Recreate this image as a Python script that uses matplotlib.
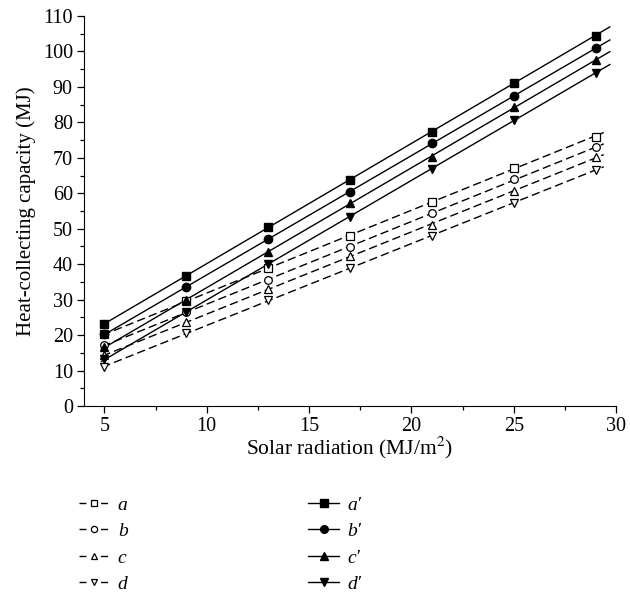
import numpy as np
import matplotlib
matplotlib.use("Agg")
import matplotlib.pyplot as plt
from matplotlib.lines import Line2D

plt.rcParams['font.family'] = ['Liberation Serif', 'DejaVu Serif']
plt.rcParams['mathtext.fontset'] = 'stix'

# Data
solar = [5, 9, 13, 17, 21, 25, 29]
a_open = [20.2, 29.6, 38.8, 48.0, 57.6, 67.2, 76.0]
b_open = [17.2, 26.5, 35.5, 44.9, 54.3, 63.9, 73.0]
c_open = [14.3, 23.7, 32.9, 42.3, 51.1, 60.7, 70.1]
d_open = [11.0, 20.6, 29.9, 38.8, 47.9, 57.4, 66.6]
a_fill = [23.1, 36.8, 50.5, 63.8, 77.4, 91.2, 104.4]
b_fill = [20.3, 33.5, 47.0, 60.5, 74.1, 87.4, 100.9]
c_fill = [16.6, 29.9, 43.5, 57.2, 70.3, 84.2, 97.6]
d_fill = [13.2, 26.6, 40.0, 53.2, 66.9, 80.7, 94.0]

open_series = [("a", a_open, "s"), ("b", b_open, "o"), ("c", c_open, "^"), ("d", d_open, "v")]
fill_series = [("a\u2032", a_fill, "s"), ("b\u2032", b_fill, "o"), ("c\u2032", c_fill, "^"), ("d\u2032", d_fill, "v")]

fit_range_open = (4.9, 29.4)
fit_range_fill = (4.85, 29.7)

fig = plt.figure(figsize=(6.3, 5.95), dpi=100)
ax = fig.add_axes([0.1333, 0.3176, 0.8445, 0.6555])

x = np.array(solar, dtype=float)
handles = []
labels = []
for name, ys, mk in open_series:
    k, b = np.polyfit(x, ys, 1)
    xf = np.array(fit_range_open)
    ax.plot(xf, k * xf + b, color='black', lw=1.0, dashes=(6, 3))
    ax.plot(x, ys, linestyle='none', marker=mk, ms=5.5, mfc='white', mec='black', mew=0.9, zorder=3)
    handles.append(Line2D([], [], color='black', lw=1.0, dashes=(5, 10.5), marker=mk, ms=4.5,
                          mfc='white', mec='black', mew=0.9))
    labels.append(name)
for name, ys, mk in fill_series:
    k, b = np.polyfit(x, ys, 1)
    xf = np.array(fit_range_fill)
    ax.plot(xf, k * xf + b, color='black', lw=1.0)
    ax.plot(x, ys, linestyle='none', marker=mk, ms=6, mfc='black', mec='black', zorder=3)
    handles.append(Line2D([], [], color='black', lw=1.0, marker=mk, ms=5.5, mfc='black', mec='black'))
    labels.append(name)

ax.set_xlim(4, 30)
ax.set_ylim(0, 110)
ax.set_xticks([5, 10, 15, 20, 25, 30])
ax.set_xticks(np.arange(7.5, 30, 5), minor=True)
ax.set_yticks(np.arange(0, 111, 10))
ax.set_yticks(np.arange(5, 110, 10), minor=True)
ax.spines['top'].set_visible(False)
ax.spines['right'].set_visible(False)
ax.tick_params(axis='both', which='major', direction='out', length=5, width=0.9, labelsize=14.5, pad=3)
ax.tick_params(axis='both', which='minor', direction='out', length=3, width=0.9)
ax.set_xlabel("Solar radiation (MJ/m$^2$)", fontsize=15.5, labelpad=-1)
ax.set_ylabel("Heat-collecting capacity (MJ)", fontsize=15, labelpad=5)

fig.legend(handles, labels, ncol=2, loc='upper left', bbox_to_anchor=(0.113, 0.179),
           frameon=False, prop={'style': 'italic', 'size': 14}, handlelength=1.55,
           handletextpad=0.45, columnspacing=9.3, labelspacing=0.45, borderaxespad=0)

fig.savefig("out.png", dpi=100)
